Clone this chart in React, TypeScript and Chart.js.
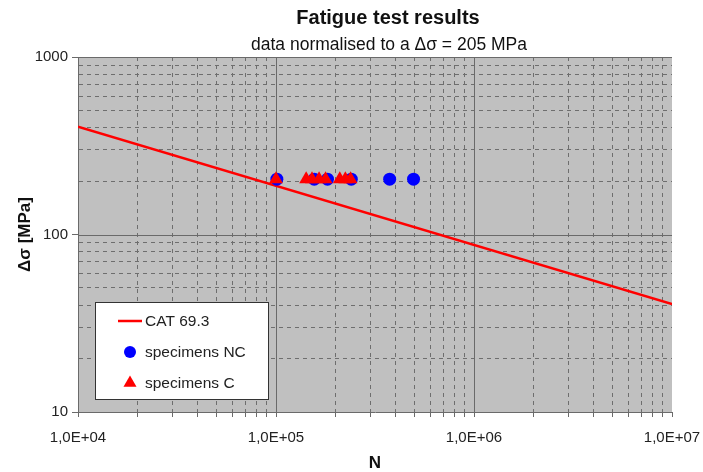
import React, { useEffect, useRef } from 'react';
import { Chart, registerables } from 'chart.js';

Chart.register(...registerables);

// ---- data ----
const xTickValues = [1e4, 1e5, 1e6, 1e7];
const xTickLabels = ['1,0E+04', '1,0E+05', '1,0E+06', '1,0E+07'];
const yTickValues = [10, 100, 1000];
const yTickLabels = ['10', '100', '1000'];

const seriesNames = ['CAT 69.3', 'specimens NC', 'specimens C'];

const catN = [10000, 10000000];
const catS = [405, 40.5];

const ncN = [101000, 156000, 182000, 240000, 375000, 495000];
const ncS = [205, 205, 205, 205, 205, 205];

const cN = [100000, 142000, 152000, 165000, 178000, 210000, 224000, 238000];
const cS = [205, 205, 205, 205, 205, 205, 205, 205];

const titleText = 'Fatigue test results';
const subtitleText = 'data normalised to a \u0394\u03C3 = 205 MPa';
const xTitle = 'N';
const yTitle = '\u0394\u03C3 [MPa]';

const FONT = '"Liberation Sans", Arial, sans-serif';
const RED = '#ff0000';
const BLUE = '#0000ff';

function logTicks(min: number, max: number) {
  const out: { value: number }[] = [];
  for (let d = min; d < max * 0.999; d *= 10) {
    for (let k = 1; k < 10; k++) out.push({ value: k * d });
  }
  out.push({ value: max });
  return out;
}

function isMajor(v: number) {
  const l = Math.log10(v);
  return Math.abs(l - Math.round(l)) < 1e-9;
}

function labelFor(values: number[], labels: string[], v: number) {
  const i = values.findIndex((t) => Math.abs(t - v) / t < 1e-9);
  return i >= 0 ? labels[i] : '';
}

const pts = (xs: number[], ys: number[]) => xs.map((x, i) => ({ x, y: ys[i] }));

const bgPlugin = {
  id: 'plotBg',
  beforeDraw(chart: any) {
    const { ctx, chartArea: a } = chart;
    ctx.save();
    ctx.fillStyle = '#c0c0c0';
    ctx.fillRect(a.left, a.top, a.right - a.left, a.bottom - a.top);
    ctx.restore();
  },
  beforeDatasetsDraw(chart: any) {
    const { ctx, chartArea: a, scales } = chart;
    ctx.save();
    ctx.strokeStyle = '#6a6a6a';
    ctx.lineWidth = 1;
    ctx.setLineDash([]);
    [1e5, 1e6].forEach((v) => {
      const x = Math.round(scales.x.getPixelForValue(v)) + 0.5;
      ctx.beginPath();
      ctx.moveTo(x, a.top);
      ctx.lineTo(x, a.bottom);
      ctx.stroke();
    });
    [100, 1000].forEach((v) => {
      const y = Math.round(scales.y.getPixelForValue(v)) + 0.5;
      ctx.beginPath();
      ctx.moveTo(a.left, y);
      ctx.lineTo(a.right, y);
      ctx.stroke();
    });
    ctx.restore();
  },
};

const decoPlugin = {
  id: 'deco',
  afterDraw(chart: any) {
    const { ctx, chartArea: a } = chart;
    ctx.save();
    // titles
    ctx.fillStyle = '#111';
    ctx.textAlign = 'center';
    ctx.textBaseline = 'middle';
    ctx.font = `bold 20px ${FONT}`;
    ctx.fillText(titleText, 388, 18);
    ctx.font = `17.5px ${FONT}`;
    ctx.fillText(subtitleText, 389, 45);

    // legend box
    const left = a.left + 17;
    const top = a.top + 245;
    const w = 173;
    const h = 97;
    ctx.fillStyle = '#ffffff';
    ctx.fillRect(left, top, w, h);
    ctx.strokeStyle = '#333';
    ctx.lineWidth = 1;
    ctx.strokeRect(left + 0.5, top + 0.5, w, h);
    const rows = [top + 19, top + 50, top + 81];
    const sx = left + 35;
    // line sample
    ctx.strokeStyle = RED;
    ctx.lineWidth = 2.5;
    ctx.beginPath();
    ctx.moveTo(left + 23, rows[0]);
    ctx.lineTo(left + 47, rows[0]);
    ctx.stroke();
    // circle sample
    ctx.fillStyle = BLUE;
    ctx.beginPath();
    ctx.arc(sx, rows[1], 6, 0, Math.PI * 2);
    ctx.fill();
    // triangle sample
    const r = 7.5;
    ctx.fillStyle = RED;
    ctx.beginPath();
    ctx.moveTo(sx, rows[2] - r);
    ctx.lineTo(sx + r * 0.87, rows[2] + r * 0.5);
    ctx.lineTo(sx - r * 0.87, rows[2] + r * 0.5);
    ctx.closePath();
    ctx.fill();
    // texts
    ctx.fillStyle = '#222';
    ctx.textAlign = 'left';
    ctx.font = `15.5px ${FONT}`;
    seriesNames.forEach((n, i) => ctx.fillText(n, left + 50, rows[i] + 1));
    ctx.restore();
  },
};

export default function App() {
  const ref = useRef<HTMLCanvasElement | null>(null);

  useEffect(() => {
    document.body.style.margin = '0';
    const canvas = ref.current;
    if (!canvas) return;
    const chart = new Chart(canvas, {
      type: 'scatter',
      data: {
        datasets: [
          {
            label: seriesNames[0],
            data: pts(catN, catS),
            showLine: true,
            borderColor: RED,
            backgroundColor: RED,
            borderWidth: 2.5,
            pointRadius: 0,
            order: 3,
          },
          {
            label: seriesNames[1],
            data: pts(ncN, ncS),
            pointStyle: 'circle',
            pointRadius: 6.5,
            backgroundColor: BLUE,
            borderColor: BLUE,
            borderWidth: 0,
            order: 2,
          },
          {
            label: seriesNames[2],
            data: pts(cN, cS),
            pointStyle: 'triangle',
            pointRadius: 8,
            backgroundColor: RED,
            borderColor: RED,
            borderWidth: 0,
            order: 1,
          },
        ],
      },
      options: {
        responsive: false,
        animation: false,
        events: [],
        layout: { padding: { top: 57, right: 31, bottom: 0, left: 0 } },
        plugins: {
          legend: { display: false },
          title: { display: false },
          tooltip: { enabled: false },
        },
        scales: {
          x: {
            type: 'logarithmic',
            min: 1e4,
            max: 1e7,
            afterBuildTicks: (s: any) => {
              s.ticks = logTicks(1e4, 1e7);
            },
            afterFit: (s: any) => {
              s.height = 60;
              s.paddingLeft = 0;
              s.paddingRight = 0;
            },
            ticks: {
              autoSkip: false,
              maxRotation: 0,
              padding: 12,
              color: '#222',
              font: { family: FONT, size: 15 },
              callback: (v: any) => labelFor(xTickValues, xTickLabels, Number(v)),
            },
            grid: {
              color: (c: any) => (c.tick && isMajor(c.tick.value) ? 'rgba(0,0,0,0)' : '#6e6e6e'),
              tickColor: '#6a6a6a',
              tickLength: 5,
            },
            border: { display: true, color: '#6a6a6a', width: 1, dash: [4, 4] },
            title: {
              display: true,
              text: xTitle,
              color: '#111',
              font: { family: FONT, size: 17, weight: 'bold', lineHeight: 1.05 },
              padding: { top: 0, bottom: 0 },
            },
          },
          y: {
            type: 'logarithmic',
            min: 10,
            max: 1000,
            afterBuildTicks: (s: any) => {
              s.ticks = logTicks(10, 1000);
            },
            afterFit: (s: any) => {
              s.width = 78;
            },
            ticks: {
              autoSkip: false,
              padding: 4,
              color: '#222',
              font: { family: FONT, size: 15 },
              callback: (v: any) => labelFor(yTickValues, yTickLabels, Number(v)),
            },
            grid: {
              color: (c: any) => (c.tick && isMajor(c.tick.value) ? 'rgba(0,0,0,0)' : '#6e6e6e'),
              tickColor: (c: any) => (c.tick && isMajor(c.tick.value) ? '#6a6a6a' : 'rgba(0,0,0,0)'),
              tickLength: 6,
            },
            border: { display: true, color: '#6a6a6a', width: 1, dash: [4, 4] },
            title: {
              display: true,
              text: yTitle,
              color: '#111',
              font: { family: FONT, size: 17, weight: 'bold' },
              padding: { top: 15, bottom: 0 },
            },
          },
        },
      },
      plugins: [bgPlugin, decoPlugin],
    } as any);
    return () => chart.destroy();
  }, []);

  return (
    <div style={{ position: 'absolute', left: 0, top: 0, width: 703, height: 472, background: '#fff' }}>
      <canvas ref={ref} width={703} height={472} style={{ display: 'block' }} />
    </div>
  );
}
